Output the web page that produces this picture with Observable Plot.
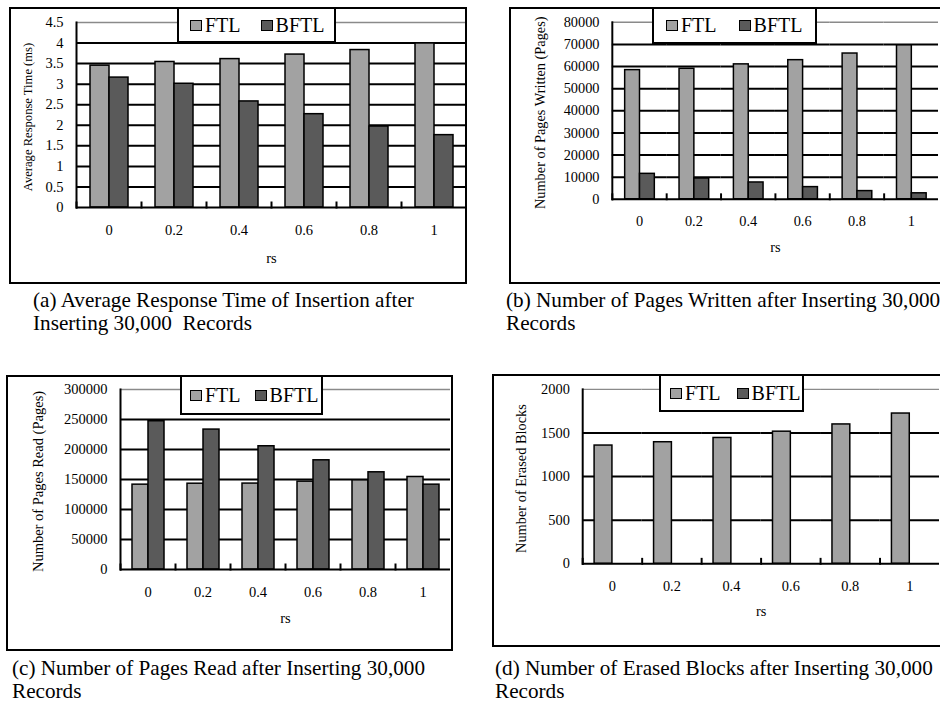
<!DOCTYPE html>
<html>
<head>
<meta charset="utf-8">
<script src="https://cdn.jsdelivr.net/npm/d3@7"></script>
<script src="https://cdn.jsdelivr.net/npm/@observablehq/plot@0.6"></script>
<style>
  html, body { margin: 0; padding: 0; background: #fff; }
  body { width: 940px; height: 705px; overflow: hidden; position: relative; color: #000; }
  .abs { position: absolute; }
  .box { position: absolute; box-sizing: border-box; border: 2px solid #000; pointer-events: none; }
  .legend { position: absolute; box-sizing: border-box; background: #fff; border: 2px solid #000;
            display: flex; align-items: center; font-size: 20px; white-space: nowrap;
            font-family: "Liberation Serif", "DejaVu Serif", serif !important; }
  .legend .item { display: flex; align-items: center; }
  .legend .sw { display: inline-block; width: 12px; height: 11px; box-sizing: border-box;
                border: 1.5px solid #000; margin-right: 3px; }
  .caption { position: absolute; font-size: 21.2px; line-height: 22.5px; white-space: nowrap;
             font-family: "Liberation Serif", "DejaVu Serif", serif !important; }
</style>
</head>
<body>
<script>
// ---------- data ----------
const rsLabels = ["0", "0.2", "0.4", "0.6", "0.8", "1"];
const seriesNames = ["FTL", "BFTL"];
const seriesColors = ["#a2a2a2", "#5a5a5a"];

const respFTL  = [3.45, 3.54, 3.61, 3.72, 3.83, 3.99];
const respBFTL = [3.16, 3.01, 2.58, 2.27, 1.97, 1.76];
const respTicks = [0, 0.5, 1, 1.5, 2, 2.5, 3, 3.5, 4, 4.5];

const writtenFTL  = [58400, 59000, 61000, 62900, 65900, 69600];
const writtenBFTL = [11500, 9400, 7600, 5500, 3700, 2700];
const writtenTicks = [0, 10000, 20000, 30000, 40000, 50000, 60000, 70000, 80000];

const readFTL  = [141400, 143000, 143200, 146400, 148600, 154200];
const readBFTL = [247100, 233200, 205400, 182000, 162000, 141400];
const readTicks = [0, 50000, 100000, 150000, 200000, 250000, 300000];

const erasedFTL  = [1356, 1394, 1443, 1515, 1598, 1723];
const erasedBFTL = [0, 0, 0, 0, 0, 0];
const erasedTicks = [0, 500, 1000, 1500, 2000];

const yTitles = ["Average Response Time (ms)", "Number of Pages Written (Pages)",
                 "Number of Pages Read (Pages)", "Number of Erased Blocks"];
const xTitle = "rs";
const captions = [
  ["(a) Average Response Time of Insertion after", "Inserting 30,000\u00a0\u00a0Records"],
  ["(b) Number of Pages Written after Inserting 30,000", "Records"],
  ["(c) Number of Pages Read after Inserting 30,000", "Records"],
  ["(d) Number of Erased Blocks after Inserting 30,000", "Records"]
];

// ---------- layout ----------
const SERIF = "'Liberation Serif', 'DejaVu Serif', serif";
const panels = [
  {ftl: respFTL, bftl: respBFTL, ticks: respTicks, title: yTitles[0],
   left: 10, top: 8, width: 456, height: 275, ml: 66, mt: 14, mb: 76, po: 0.71,
   titleDx: 49, titleSize: 12.6, rsDy: 55, boxRight: true,
   legend: {left: 177, top: 8, w: 159, h: 35, pad: 11, gap: 20},
   caption: {left: 33, top: 289}},
  {ftl: writtenFTL, bftl: writtenBFTL, ticks: writtenTicks, title: yTitles[1],
   left: 510, top: 8, width: 435, height: 275, ml: 101, mt: 14, mb: 82, po: 0.74,
   titleDx: 73, titleSize: 14.5, rsDy: 53, boxRight: false,
   legend: {left: 652, top: 8, w: 165, h: 36, pad: 12, gap: 22},
   caption: {left: 506, top: 289}},
  {ftl: readFTL, bftl: readBFTL, ticks: readTicks, title: yTitles[2],
   left: 7, top: 376, width: 445, height: 274, ml: 110, mt: 13, mb: 81, po: 0.69,
   titleDx: 82, titleSize: 14.5, rsDy: 53, boxRight: true,
   legend: {left: 180, top: 376, w: 143, h: 39, pad: 8, gap: 14},
   caption: {left: 12, top: 657}},
  {ftl: erasedFTL, bftl: erasedBFTL, ticks: erasedTicks, title: yTitles[3],
   left: 493, top: 375, width: 451, height: 271, ml: 88, mt: 14, mb: 81, po: 0.59,
   titleDx: 62, titleSize: 14.5, rsDy: 53, boxRight: false,
   legend: {left: 659, top: 375, w: 145, h: 37, pad: 9, gap: 16},
   caption: {left: 495, top: 657}}
];

function makePlot(cfg) {
  const rows = [];
  cfg.ftl.forEach((v, i) => rows.push({rs: rsLabels[i], series: seriesNames[0], value: v}));
  cfg.bftl.forEach((v, i) => rows.push({rs: rsLabels[i], series: seriesNames[1], value: v}));
  const yMax = cfg.ticks[cfg.ticks.length - 1];
  const plotH = cfg.height - cfg.mt - cfg.mb;
  return Plot.plot({
    width: cfg.width, height: cfg.height,
    marginLeft: cfg.ml, marginRight: 0, marginTop: cfg.mt, marginBottom: cfg.mb,
    style: {fontFamily: SERIF, fontSize: "14.5px", color: "#000", background: "transparent", overflow: "visible"},
    fx: {domain: rsLabels, padding: 0, axis: "bottom", tickSize: 0, tickPadding: 17, label: null},
    x: {domain: seriesNames, paddingInner: 0, paddingOuter: cfg.po, axis: null},
    y: {domain: [0, yMax], ticks: cfg.ticks, tickFormat: d => String(d), tickSize: 0, tickPadding: 13, label: null},
    color: {domain: seriesNames, range: seriesColors},
    marks: [
      Plot.ruleY(cfg.ticks.filter(t => t > 0 && t < yMax), {stroke: "#000", strokeWidth: 2}),
      Plot.ruleY([yMax], {stroke: "#8a8a8a", strokeWidth: 1.5}),
      Plot.barY(rows, {fx: "rs", x: "series", y: "value", fill: "series", stroke: "#000", strokeWidth: 1.5}),
      Plot.ruleY([0], {stroke: "#000", strokeWidth: 2}),
      Plot.frame({anchor: "left", insetTop: plotH - 5, stroke: "#000", strokeWidth: 2}),
      Plot.frame({anchor: "left", facet: "super", stroke: "#000", strokeWidth: 2}),
      Plot.text([cfg.title], {frameAnchor: "left", textAnchor: "middle", rotate: -90, dx: -cfg.titleDx, dy: 2,
                              fontSize: cfg.titleSize, fill: "#000", facet: "super"}),
      Plot.text([xTitle], {frameAnchor: "bottom", dy: cfg.rsDy, fontSize: 14.5, fill: "#000", facet: "super"})
    ]
  });
}

panels.forEach((cfg, idx) => {
  const holder = document.createElement("div");
  holder.className = "abs";
  holder.style.left = cfg.left + "px";
  holder.style.top = cfg.top + "px";
  holder.appendChild(makePlot(cfg));
  document.body.appendChild(holder);

  const box = document.createElement("div");
  box.className = "box";
  box.style.left = (cfg.left - 1) + "px";
  box.style.top = (cfg.top - 1) + "px";
  box.style.width = (cfg.boxRight ? cfg.width + 2 : 460) + "px";
  box.style.height = (cfg.height + 2) + "px";
  document.body.appendChild(box);

  const lg = cfg.legend;
  const leg = document.createElement("div");
  leg.className = "legend";
  leg.style.left = lg.left + "px";
  leg.style.top = (lg.top - 1) + "px";
  leg.style.width = lg.w + "px";
  leg.style.height = (lg.h + 1) + "px";
  leg.style.paddingLeft = lg.pad + "px";
  leg.style.gap = lg.gap + "px";
  seriesNames.forEach((name, i) => {
    const item = document.createElement("span");
    item.className = "item";
    const sw = document.createElement("span");
    sw.className = "sw";
    sw.style.background = seriesColors[i];
    item.appendChild(sw);
    item.appendChild(document.createTextNode(name));
    leg.appendChild(item);
  });
  document.body.appendChild(leg);

  const cap = document.createElement("div");
  cap.className = "caption";
  cap.style.left = cfg.caption.left + "px";
  cap.style.top = cfg.caption.top + "px";
  cap.innerHTML = captions[idx].join("<br>");
  document.body.appendChild(cap);
});
</script>
</body>
</html>
